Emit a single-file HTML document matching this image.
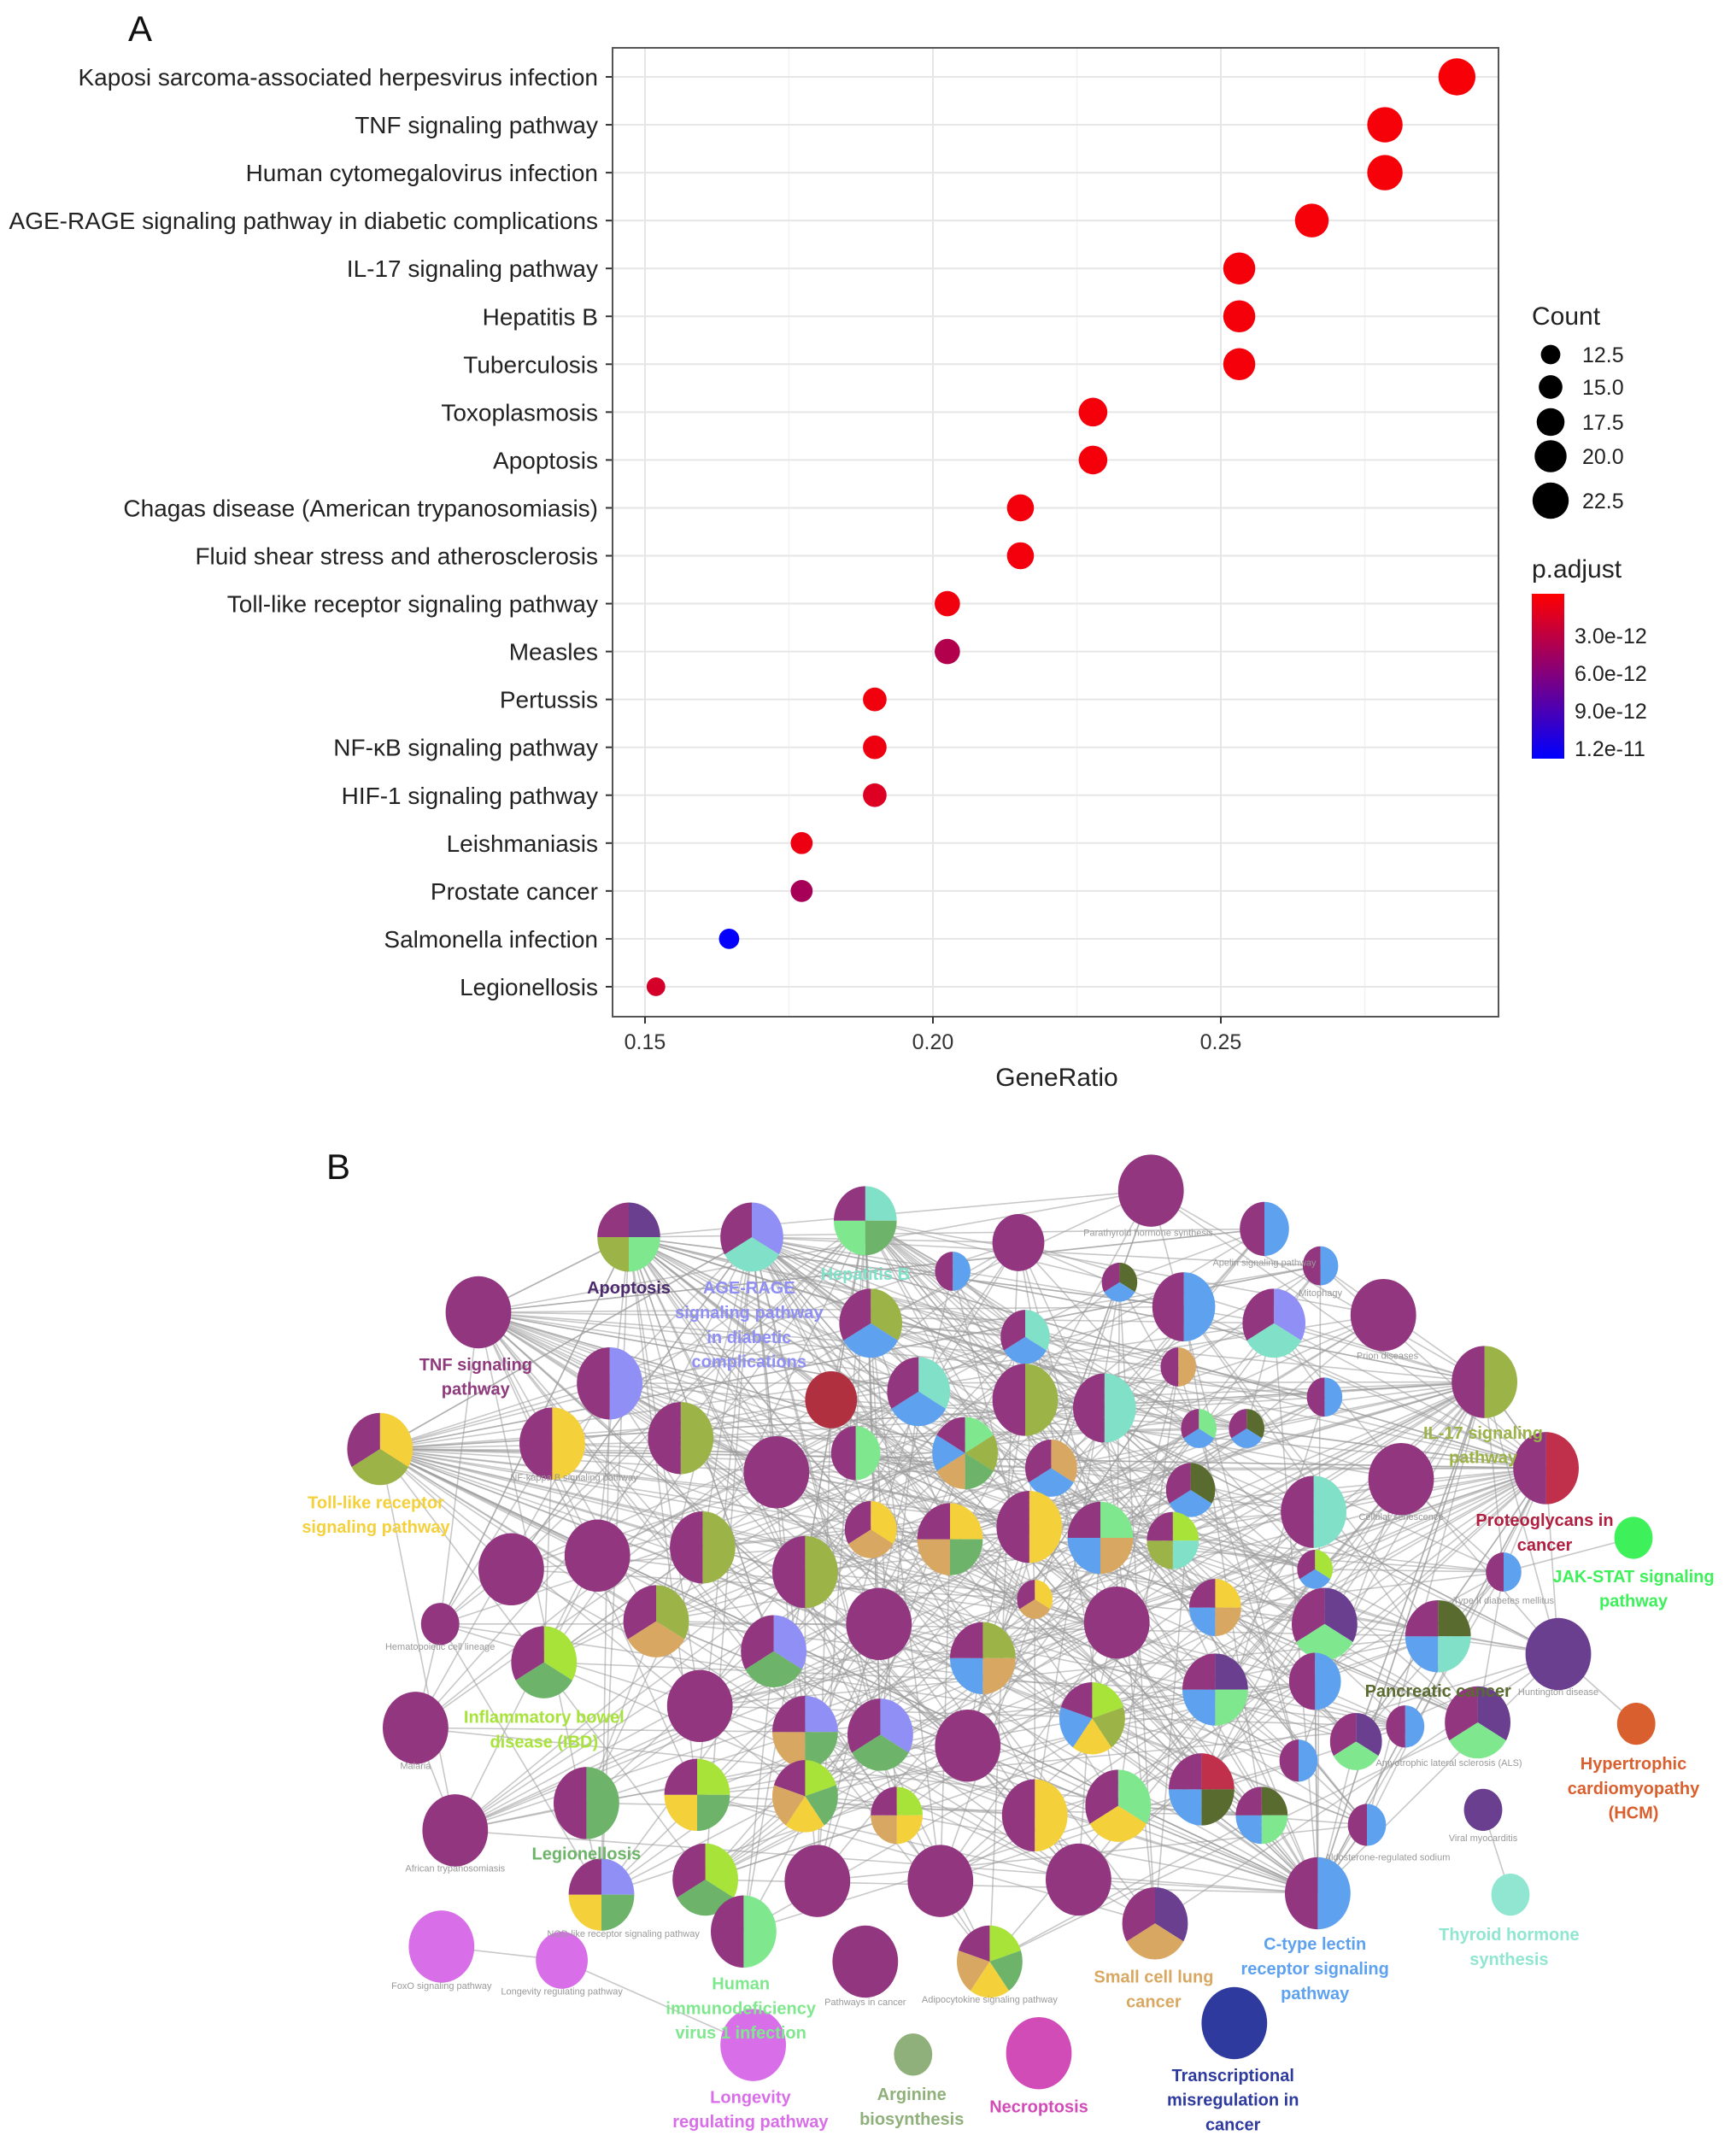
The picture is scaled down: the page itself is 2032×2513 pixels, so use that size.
<!DOCTYPE html>
<html><head><meta charset="utf-8"><style>
html,body{margin:0;padding:0;background:#fff;}
svg{display:block;font-family:"Liberation Sans",Arial,sans-serif;}
</style></head><body>
<svg id="fig" width="2032" height="2513" viewBox="0 0 2032 2513" xmlns="http://www.w3.org/2000/svg">
<rect width="2032" height="2513" fill="#fff"/>
<text x="150" y="48" font-size="42" fill="#111">A</text>
<g id="panelA"></g>
<text x="382" y="1380" font-size="42" fill="#111">B</text>
<g id="edges"></g>
<g id="nodes"></g>
<g id="blabels"></g>
</svg>
<script>
const NS="http://www.w3.org/2000/svg";
const categories=["Kaposi sarcoma-associated herpesvirus infection","TNF signaling pathway","Human cytomegalovirus infection","AGE-RAGE signaling pathway in diabetic complications","IL-17 signaling pathway","Hepatitis B","Tuberculosis","Toxoplasmosis","Apoptosis","Chagas disease (American trypanosomiasis)","Fluid shear stress and atherosclerosis","Toll-like receptor signaling pathway","Measles","Pertussis","NF-\u03baB signaling pathway","HIF-1 signaling pathway","Leishmaniasis","Prostate cancer","Salmonella infection","Legionellosis"];
const geneRatio=[0.291,0.2785,0.2785,0.2658,0.2532,0.2532,0.2532,0.2278,0.2278,0.2152,0.2152,0.2025,0.2025,0.1899,0.1899,0.1899,0.1772,0.1772,0.1646,0.1519];
const counts=[23,22,22,21,20,20,20,18,18,17,17,16,16,15,15,15,14,14,13,12];
const padj=[0.0e-12,0.1e-12,0.1e-12,0.1e-12,0.2e-12,0.2e-12,0.2e-12,0.2e-12,0.2e-12,0.3e-12,0.3e-12,0.4e-12,3.6e-12,0.4e-12,0.5e-12,1.4e-12,0.6e-12,4.2e-12,12.6e-12,1.8e-12];
const xTicks=[0.15,0.20,0.25];
const xTickLabels=["0.15","0.20","0.25"];
const countLegend=[12.5,15.0,17.5,20.0,22.5];
const countLegendLabels=["12.5","15.0","17.5","20.0","22.5"];
const padjTicks=[3e-12,6e-12,9e-12,1.2e-11];
const padjTickLabels=["3.0e-12","6.0e-12","9.0e-12","1.2e-11"];

function el(tag,attrs,parent){const e=document.createElementNS(NS,tag);for(const k in attrs)e.setAttribute(k,attrs[k]);if(parent)parent.appendChild(e);return e;}
const L=717,R=1754,T=56,B=1190;
const xs=v=>755+(v-0.15)*(337/0.05);
const ys=i=>90+i*56.05;
const rs=c=>11.4+(c-12.5)*0.98;
const pMin=-0.34e-12,pMax=12.8e-12;
function pcol(v){let t=(v-pMin)/(pMax-pMin);t=Math.max(0,Math.min(1,t));
 const r=Math.round(255*(1-t)),b=Math.round(255*t);
 return `rgb(${r},0,${b})`;}
const A=document.getElementById('panelA');
for(let v=0.125;v<=0.3;v+=0.025){const x=xs(v);if(x>L&&x<R){const major=Math.abs((v*100)%5)<0.01||Math.abs((v*100)%5-5)<0.01;
 const ln=el('line',{x1:x,x2:x,y1:T,y2:B,stroke:major?'#e6e6e6':'#f2f2f2','stroke-width':major?2:1.5},A);
 }}
categories.forEach((c,i)=>{const y=ys(i);
 const g=el('line',{x1:L,x2:R,y1:y,y2:y,stroke:'#e6e6e6','stroke-width':2},A);
 
 const tk=el('line',{x1:L-8,x2:L,y1:y,y2:y,stroke:'#333','stroke-width':2},A);
 
 const t=el('text',{x:L-17,y:y+10,'font-size':28,'text-anchor':'end',fill:'#222'},A);t.textContent=c;
 
});
const border=el('rect',{x:L,y:T,width:R-L,height:B-T,fill:'none',stroke:'#555','stroke-width':2},A);

xTicks.forEach((v,i)=>{const x=xs(v);
 const tk=el('line',{x1:x,x2:x,y1:B,y2:B+8,stroke:'#333','stroke-width':2},A);
 
 const t=el('text',{x:x,y:B+38,'font-size':25,'text-anchor':'middle',fill:'#333'},A);t.textContent=xTickLabels[i];
 });
const xt=el('text',{x:1237,y:1271,'font-size':30,'text-anchor':'middle',fill:'#222'},A);xt.textContent='GeneRatio';

categories.forEach((c,i)=>{const d=el('circle',{cx:xs(geneRatio[i]),cy:ys(i),r:rs(counts[i]),fill:pcol(padj[i])},A);
 });
const ct=el('text',{x:1793,y:380,'font-size':30,fill:'#222'},A);ct.textContent='Count';

const cly=[415,453,494,534,586];
countLegend.forEach((c,i)=>{const d=el('circle',{cx:1815,cy:cly[i],r:rs(c),fill:'#000'},A);
 
 const t=el('text',{x:1852,y:cly[i]+9,'font-size':25,fill:'#222'},A);t.textContent=countLegendLabels[i];
 });
const pt=el('text',{x:1793,y:676,'font-size':30,fill:'#222'},A);pt.textContent='p.adjust';

const defs=el('defs',{},A);const lg=el('linearGradient',{id:'cb',x1:0,y1:0,x2:0,y2:1},defs);
for(let k=0;k<=10;k++){el('stop',{offset:k/10,'stop-color':pcol(pMin+(pMax-pMin)*k/10)},lg);}
const cy=v=>695+(v-pMin)/(pMax-pMin)*193;
const cb=el('rect',{x:1793,y:695,width:38,height:193,fill:'url(#cb)'},A);

padjTicks.forEach((v,i)=>{const y=cy(v);
 const t=el('text',{x:1843,y:y+9,'font-size':25,fill:'#222'},A);t.textContent=padjTickLabels[i];
 });

const C={P:'#923680',D:'#6b3f8f',O:'#9bb347',G:'#7fe88f',V:'#8f8ff5',T:'#80e0c8',B:'#5ea2ef',Y:'#f4d03a',N:'#d8a862',L:'#a8e33a',M:'#6db46a',K:'#5a6b30',R:'#b0303f',C:'#c0304a',J:'#3ef05a',H:'#d9602e',S:'#90e6d0',F:'#d86ee8',A:'#8fb07a',E:'#d24cb8',Q:'#2e3a9e'};
const nodes=[[460,905,23,'DGOP'],[550,905,23,'VTP'],[633,893,23,'TMGP'],[842,871,24,'P'],[745,909,19,'P'],[697,930,13,'BP'],[925,899,18,'BP'],[966,926,13,'BP'],[819,938,13,'KBP'],[350,960,24,'P'],
[637,968,23,'OBP'],[750,978,18,'TBP'],[866,956,23,'BP'],[932,968,23,'VTP'],[1012,962,24,'P'],[862,1000,13,'NP'],[446,1012,24,'VP'],[608,1024,19,'R'],[672,1018,23,'TBP'],[750,1024,24,'OP'],
[808,1030,23,'TP'],[969,1022,13,'BP'],[1086,1011,24,'OP'],[877,1045,13,'GBP'],[912,1045,13,'KBP'],[278,1060,24,'YOP'],[404,1056,24,'YP'],[498,1052,24,'OP'],[568,1077,24,'P'],[626,1063,18,'GP'],
[706,1063,24,'GOMNBP'],[769,1074,19,'NBP'],[871,1090,18,'KBP'],[1025,1082,24,'P'],[1131,1074,24,'CP'],[961,1106,24,'TP'],[637,1119,19,'YNP'],[695,1126,24,'YMNP'],[753,1117,24,'YP'],[805,1125,24,'GNBP'],
[858,1127,19,'LTOP'],[374,1148,24,'P'],[437,1138,24,'P'],[514,1132,24,'OP'],[589,1150,24,'OP'],[962,1148,13,'LBP'],[1100,1150,13,'BP'],[1195,1125,14,'J'],[322,1188,14,'P'],[480,1186,24,'ONP'],
[643,1188,24,'P'],[566,1208,24,'VMP'],[757,1170,13,'YNP'],[889,1176,19,'YNBP'],[817,1187,24,'P'],[719,1213,24,'ONBP'],[969,1188,24,'DGP'],[1052,1197,24,'KTBP'],[1140,1210,24,'D'],[398,1216,24,'LMP'],
[889,1236,24,'DGBP'],[962,1230,19,'BP'],[304,1264,24,'P'],[512,1248,24,'P'],[589,1267,24,'VMNP'],[644,1269,24,'VMP'],[708,1277,24,'P'],[799,1257,24,'LOYBP'],[1197,1261,14,'H'],[1081,1260,24,'DGP'],
[992,1274,19,'DGP'],[1028,1263,14,'BP'],[950,1288,14,'BP'],[333,1339,24,'P'],[429,1319,24,'MP'],[510,1313,24,'LMYP'],[589,1314,24,'LMYNP'],[656,1328,19,'LYNP'],[757,1328,24,'YP'],[818,1321,24,'GYP'],
[879,1309,24,'CKBP'],[923,1328,19,'KGBP'],[1000,1335,14,'BP'],[1085,1324,14,'D'],[440,1386,24,'VMYP'],[516,1375,24,'LMP'],[598,1376,24,'P'],[688,1376,24,'P'],[789,1375,24,'P'],[544,1413,24,'GP'],
[845,1407,24,'DNP'],[964,1385,24,'BP'],[1105,1386,14,'S'],[323,1424,24,'F'],[411,1434,19,'F'],[633,1435,24,'P'],[724,1435,24,'LMYNP'],[903,1480,24,'Q'],[551,1496,24,'F'],[668,1503,14,'A'],[760,1502,24,'E']];
const S=1.6;
const E=document.getElementById('edges'),Nd=document.getElementById('nodes'),BL=document.getElementById('blabels');
const N=nodes.length;const isolated=new Set([68,92,93,94,95,97,98,99,100,47,83]);
function edge(a,b){const p=nodes[a],q=nodes[b];
 const l=el('line',{x1:p[0]*S,y1:p[1]*S,x2:q[0]*S,y2:q[1]*S,stroke:'#9a9a9a','stroke-width':1.6,'stroke-opacity':0.55},E);
 }
for(let i=0;i<N;i++){if(isolated.has(i))continue;for(let k=1;k<=4;k++){const j=(i*7+k*17)%N;if(j!==i&&!isolated.has(j))edge(i,j);}}
[25,9,22,91,0,1,2,34].forEach(h=>{for(let j=(h%3);j<N;j+=3){if(j!==h&&!isolated.has(j))edge(h,j);}});
edge(93,94);edge(94,98);edge(92,83);edge(47,46);edge(68,58);edge(62,73);edge(48,62);edge(48,41);
nodes.forEach((n,i)=>{const cx=n[0]*S,cy=n[1]*S,rx=n[2]*S,ry=n[2]*S*1.1,sl=n[3];
 const g=el('g',{},Nd);
 if(sl.length===1){el('ellipse',{cx,cy,rx,ry,fill:C[sl]},g);return;}
 const m=sl.length;for(let k=0;k<m;k++){const a0=k/m*2*Math.PI,a1=(k+1)/m*2*Math.PI;
  const x0=cx+rx*Math.sin(a0),y0=cy-ry*Math.cos(a0),x1=cx+rx*Math.sin(a1),y1=cy-ry*Math.cos(a1);
  el('path',{d:`M${cx},${cy}L${x0},${y0}A${rx},${ry} 0 ${(a1-a0)>Math.PI?1:0} 1 ${x1},${y1}Z`,fill:C[sl[k]]},g);}});
const labels=[[460,942,'#4b2a6e',['Apoptosis']],[548,942,'#8f8ff5',['AGE-RAGE','signaling pathway','in diabetic','complications']],[633,932,'#80e0c8',['Hepatitis B']],
[348,998,'#8e3a7c',['TNF signaling','pathway']],[275,1099,'#f4d03a',['Toll-like receptor','signaling pathway']],[1085,1048,'#9bb347',['IL-17 signaling','pathway']],
[1130,1112,'#b01e40',['Proteoglycans in','cancer']],[1195,1153,'#3ef05a',['JAK-STAT signaling','pathway']],[1052,1237,'#5a6b30',['Pancreatic cancer']],
[398,1256,'#a8e33a',['Inflammatory bowel','disease (IBD)']],[1195,1290,'#d9602e',['Hypertrophic','cardiomyopathy','(HCM)']],[429,1356,'#6db46a',['Legionellosis']],
[1104,1415,'#90e6d0',['Thyroid hormone','synthesis']],[962,1422,'#5ea2ef',['C-type lectin','receptor signaling','pathway']],[844,1446,'#d8a862',['Small cell lung','cancer']],
[542,1451,'#7fe88f',['Human','immunodeficiency','virus 1 infection']],[549,1534,'#d86ee8',['Longevity','regulating pathway']],[667,1532,'#8fb07a',['Arginine','biosynthesis']],
[760,1541,'#d24cb8',['Necroptosis']],[902,1518,'#2e3a9e',['Transcriptional','misregulation in','cancer']]];
labels.forEach(l=>{const t=el('text',{x:l[0]*S,y:l[1]*S+7,'font-size':20,'font-weight':'bold','text-anchor':'middle',fill:l[2]},BL);
 
 l[3].forEach((s,k)=>{const ts=el('tspan',{x:l[0]*S,dy:k?28.8:0},t);ts.textContent=s;});});
const small=[[322,1207,'Hematopoietic cell lineage'],[304,1294,'Malaria'],[333,1369,'African trypanosomiasis'],[323,1455,'FoxO signaling pathway'],[411,1459,'Longevity regulating pathway'],[456,1417,'NOD-like receptor signaling pathway'],[1015,994,'Prion diseases'],[1025,1112,'Cellular senescence'],[1140,1240,'Huntington disease'],[1085,1347,'Viral myocarditis'],[1100,1173,'Type II diabetes mellitus'],[1060,1292,'Amyotrophic lateral sclerosis (ALS)'],[840,904,'Parathyroid hormone synthesis'],[925,926,'Apelin signaling pathway'],[966,948,'Mitophagy'],[633,1467,'Pathways in cancer'],[724,1465,'Adipocytokine signaling pathway'],[1015,1361,'Aldosterone-regulated sodium'],[420,1083,'NF-kappa B signaling pathway']];
small.forEach(s=>{const t=el('text',{x:s[0]*S,y:s[1]*S,'font-size':11,'text-anchor':'middle',fill:'#999'},BL);t.textContent=s[2];
 });
</script>
</body></html>
